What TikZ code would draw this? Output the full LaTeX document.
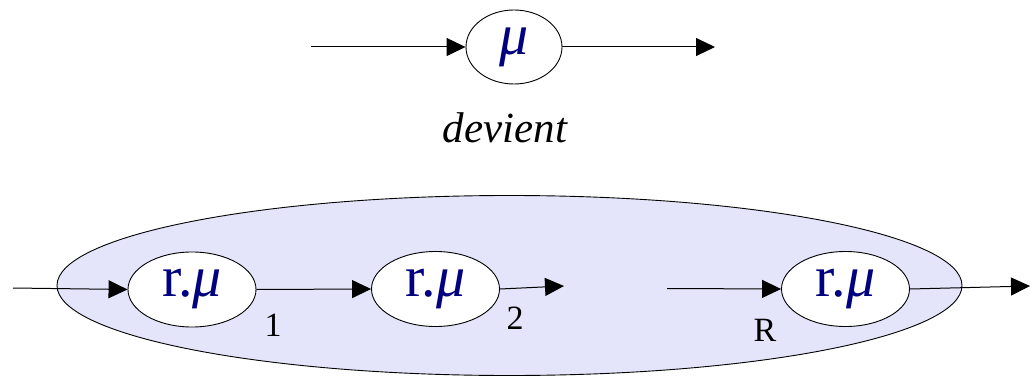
\documentclass[tikz,border=0pt]{standalone}
\usepackage{fontspec}
\setmainfont{Liberation Serif}
\usetikzlibrary{shapes.geometric,arrows.meta}
\definecolor{navyblue}{RGB}{0,0,128}
\definecolor{lav}{RGB}{228,228,250}
\tikzset{
  proc/.style={ellipse,draw=black,line width=0.9pt,fill=white,inner sep=0pt,minimum width=128pt,minimum height=75pt},
  lbl/.style={inner sep=0pt,text=navyblue,font=\rmfamily\fontsize{58}{58}\selectfont},
  flow/.style={line width=1pt,-{Triangle[length=19pt,width=18pt]}},
  idx/.style={font=\rmfamily\fontsize{34}{34}\selectfont,inner sep=0pt}
}
\begin{document}
\begin{tikzpicture}[x=1pt,y=-1pt]
\useasboundingbox (0,0) rectangle (1030,377);
% shapes
\node[proc,minimum width=96pt,minimum height=74pt,fill=none] (mu) at (514,47) {};
\node[ellipse,draw=black,line width=0.9pt,fill=lav,minimum width=905pt,minimum height=180pt,inner sep=0pt] (big) at (509.5,285.5) {};
\node[proc] (p1) at (192,289.5) {};
\node[proc] (p2) at (435.5,289) {};
\node[proc] (p3) at (845.5,289) {};
% connectors
\coordinate (tin) at (311,47);
\coordinate (tout) at (715,47);
\coordinate (in) at (13,288);
\coordinate (g1) at (564,286);
\coordinate (g2) at (667,288.5);
\coordinate (out) at (1030,286);
\draw[flow] (tin) -- (mu.west);
\draw[flow] (mu.east) -- (tout);
\draw[flow] (in) -- (p1.west);
\draw[flow] (p1.east) -- (p2.west);
\draw[flow] (p2.east) -- (g1);
\draw[flow] (g2) -- (p3.west);
\draw[flow] (p3.east) -- (out);
% texts
\node[lbl] (tmu) at (mu.center) {\textit{μ}};
\node[font=\rmfamily\fontsize{43}{43}\selectfont\itshape] (dev) at (505,128) {devient};
\node[lbl] (t1) at (p1.center) {r.\textit{μ}};
\node[lbl] (t2) at (p2.center) {r.\textit{μ}};
\node[lbl] (t3) at (p3.center) {r.\textit{μ}};
\node[idx] (l1) at (273,325) {1};
\node[idx] (l2) at (515,318) {2};
\node[idx] (lR) at (765,330) {R};
\end{tikzpicture}
\end{document}
